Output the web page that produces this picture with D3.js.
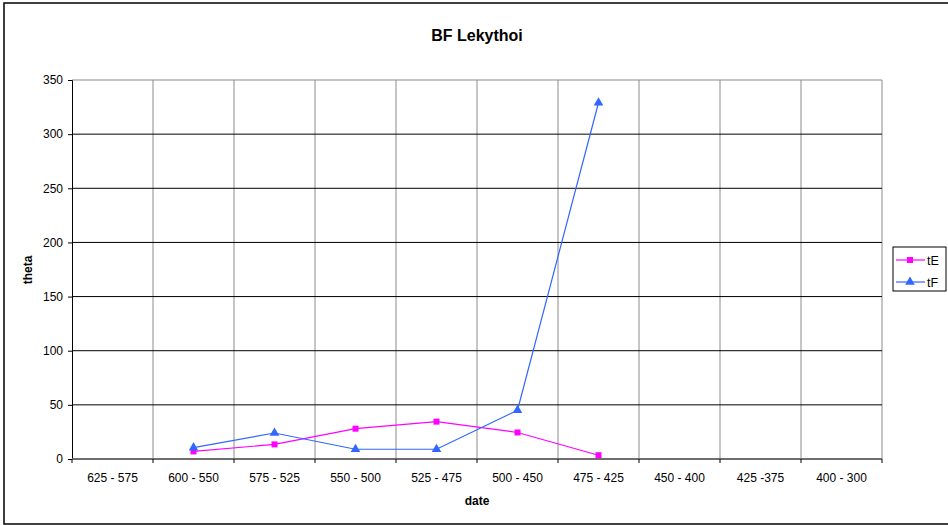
<!DOCTYPE html>
<html><head><meta charset="utf-8">
<script src="https://cdn.jsdelivr.net/npm/d3@7"></script>
<style>body{margin:0;background:#fff;}svg{display:block;font-family:"Liberation Sans",Arial,sans-serif;}</style>
</head><body>
<svg id="c" width="948" height="525"></svg>
<script>
const categories = ["625 - 575","600 - 550","575 - 525","550 - 500","525 - 475","500 - 450","475 - 425","450 - 400","425 -375","400 - 300"];
const tE = [null, 7, 13.5, 28, 34.5, 24.5, 3.5, null, null, null];
const tF = [null, 10.5, 24, 9, 9, 45, 329, null, null, null];
const yTicks = [0,50,100,150,200,250,300,350];

const svg = d3.select("#c");
const L=72, R=882, T=80, B=459;
svg.append("rect").attr("x",4).attr("y",3).attr("width",960).attr("height",521)
  .attr("fill","#fff").attr("stroke","#000").attr("stroke-width",1.5);

const x = d3.scaleBand().domain(categories).range([L,R]);
const y = d3.scaleLinear().domain([0,350]).range([B,T]);

const bounds = categories.map((c,i)=>x(c)).concat([R]);
svg.append("g").selectAll("line").data(bounds.slice(1)).join("line")
  .attr("x1",d=>d).attr("x2",d=>d).attr("y1",T).attr("y2",B)
  .attr("stroke","#8c8c8c").attr("stroke-width",1);
svg.append("g").selectAll("line").data(yTicks.filter(v=>v>0&&v<350)).join("line")
  .attr("x1",L).attr("x2",R).attr("y1",d=>y(d)).attr("y2",d=>y(d))
  .attr("stroke","#000").attr("stroke-width",1);
svg.append("line").attr("x1",L).attr("x2",R).attr("y1",y(350)).attr("y2",y(350)).attr("stroke","#8c8c8c").attr("stroke-width",1.2);

const ya = svg.append("g").attr("transform",`translate(${L},0)`)
  .call(d3.axisLeft(y).tickValues(yTicks).tickSize(4).tickPadding(5));
ya.select(".domain").attr("stroke","#000");
ya.selectAll("text").attr("font-size",12).attr("fill","#000").attr("font-family","Liberation Sans, Arial, sans-serif");
svg.append("line").attr("x1",L).attr("x2",R).attr("y1",B).attr("y2",B).attr("stroke","#6e6e6e").attr("stroke-width",2);
svg.append("g").selectAll("line").data(bounds).join("line")
  .attr("x1",d=>d).attr("x2",d=>d).attr("y1",B).attr("y2",B+4).attr("stroke","#000");
svg.append("g").selectAll("text").data(categories).join("text")
  .attr("x",d=>x(d)+x.bandwidth()/2).attr("y",B+23).attr("text-anchor","middle")
  .attr("font-size",12).text(d=>d);

svg.append("text").attr("x",477).attr("y",41).attr("text-anchor","middle").attr("font-weight","bold").attr("font-size",16).text("BF Lekythoi");
svg.append("text").attr("x",477).attr("y",505).attr("text-anchor","middle").attr("font-weight","bold").attr("font-size",12).text("date");
svg.append("text").attr("transform","translate(32,270) rotate(-90)").attr("text-anchor","middle").attr("font-weight","bold").attr("font-size",12).text("theta");

const cx = c => x(c)+x.bandwidth()/2;
function series(vals,color,shape){
  const pts = categories.map((c,i)=>({c,v:vals[i]})).filter(d=>d.v!=null);
  svg.append("path").datum(pts).attr("fill","none").attr("stroke",color).attr("stroke-width",1.2)
    .attr("d",d3.line().x(d=>cx(d.c)).y(d=>y(d.v)));
  const sym = d3.symbol().type(shape==="sq"?d3.symbolSquare:d3.symbolTriangle).size(shape==="sq"?36:40);
  svg.append("g").selectAll("path").data(pts).join("path")
    .attr("transform",d=>`translate(${cx(d.c)},${y(d.v)})`).attr("d",sym).attr("fill",color);
}
series(tE,"#ff00ff","sq");
series(tF,"#3366ff","tri");

const lg = svg.append("g");
lg.append("rect").attr("x",893).attr("y",247).attr("width",53).attr("height",44).attr("fill","#fff").attr("stroke","#000").attr("stroke-width",1);
[["tE","#ff00ff","sq",260],["tF","#3366ff","tri",282]].forEach(([n,c,s,yy])=>{
  lg.append("line").attr("x1",896).attr("x2",925).attr("y1",yy).attr("y2",yy).attr("stroke",c).attr("stroke-width",1.2);
  lg.append("path").attr("transform",`translate(910,${yy})`).attr("d",d3.symbol().type(s==="sq"?d3.symbolSquare:d3.symbolTriangle).size(s==="sq"?36:40)).attr("fill",c);
  lg.append("text").attr("x",927).attr("y",yy+4.5).attr("font-size",12.5).text(n);
});
</script>
</body></html>
